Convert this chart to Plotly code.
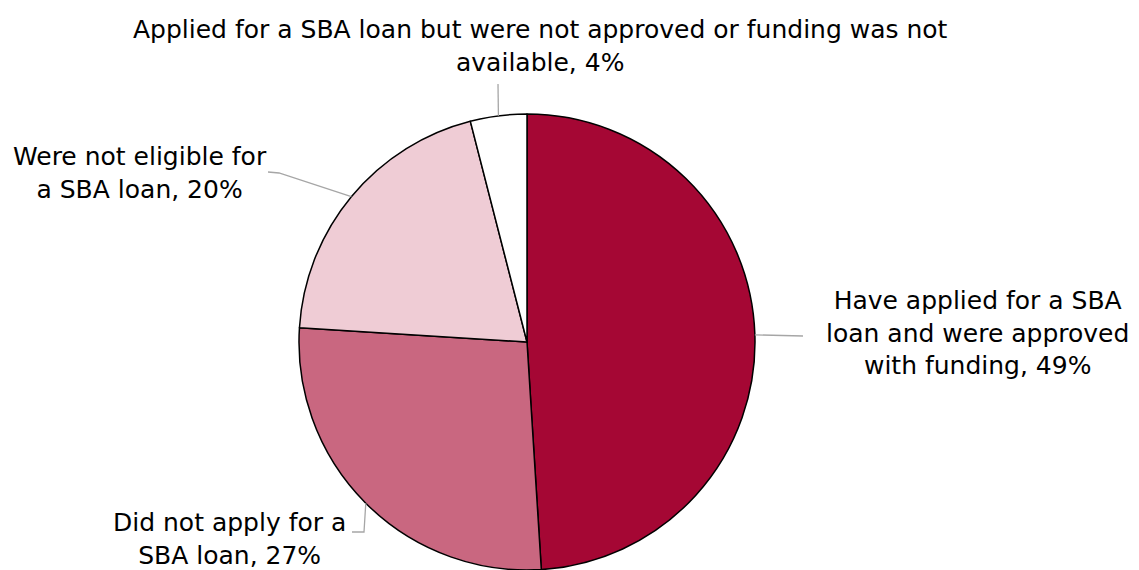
import math
import plotly.graph_objects as go

# ---- data ----
categories = [
    "Have applied for a SBA loan and were approved with funding",
    "Did not apply for a SBA loan",
    "Were not eligible for a SBA loan",
    "Applied for a SBA loan but were not approved or funding was not available",
]
values = [49, 27, 20, 4]
label_texts = [
    "Have applied for a SBA<br>loan and were approved<br>with funding, 49%",
    "Did not apply for a<br>SBA loan, 27%",
    "Were not eligible for<br>a SBA loan, 20%",
    "Applied for a SBA loan but were not approved or funding was not<br>available, 4%",
]
colors = ["#A50734", "#C96780", "#EFCCD5", "#FFFFFF"]

W, H = 1139, 570
CX, CY, R = 527, 342, 228  # pie centre/radius in pixels


def px(x):
    return x / W


def py(y):
    return 1 - y / H


fig = go.Figure()
fig.add_trace(go.Pie(
    labels=categories,
    values=values,
    sort=False,
    direction="clockwise",
    rotation=0,
    marker=dict(colors=colors, line=dict(color="#000000", width=1.5)),
    textinfo="none",
    hoverinfo="label+percent",
    showlegend=False,
    domain=dict(x=[px(CX - R), px(CX + R)], y=[py(CY + R), py(CY - R)]),
))

# label placement (layout) and leader-line elbows, in pixels
label_pos = [(977, 333), (229, 539), (140, 173), (540, 46)]
elbows = [
    [(803, 336)],
    [(364, 532), (352, 532)],
    [(279, 173), (268, 172)],
    [(498, 84)],
]

total = sum(values)
cum = 0
shapes = []
annotations = []
for i, v in enumerate(values):
    mid = (cum + v / 2) / total * 2 * math.pi
    cum += v
    x0 = CX + R * math.sin(mid)
    y0 = CY - R * math.cos(mid)
    pts = [(x0, y0)] + elbows[i]
    path = "M " + " L ".join(f"{px(a)},{py(b)}" for a, b in pts)
    shapes.append(dict(type="path", xref="paper", yref="paper", path=path,
                       line=dict(color="#A6A6A6", width=1.3)))
    lx, ly = label_pos[i]
    annotations.append(dict(
        x=px(lx), y=py(ly), xref="paper", yref="paper",
        text=label_texts[i], showarrow=False, align="center",
        xanchor="center", yanchor="middle",
        font=dict(family="DejaVu Sans", size=25, color="#000000"),
    ))

fig.update_layout(
    width=W, height=H,
    margin=dict(l=0, r=0, t=0, b=0),
    paper_bgcolor="#FFFFFF",
    plot_bgcolor="#FFFFFF",
    shapes=shapes,
    annotations=annotations,
)

fig.write_html("out.html")
